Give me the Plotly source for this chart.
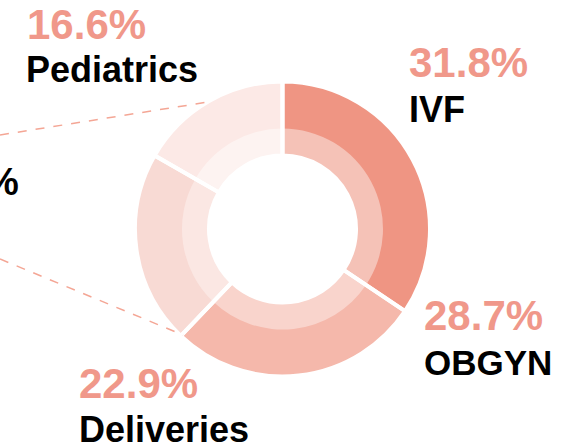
import plotly.graph_objects as go

# ---- data ----
categories = ["IVF", "OBGYN", "Deliveries", "Pediatrics"]
label_pct = ["31.8%", "28.7%", "22.9%", "16.6%"]
slice_share = [34.4, 27.7, 21.2, 16.7]   # slice sizes as drawn
outer_colors = ["#EF9583", "#F5B8AB", "#F8DAD4", "#FCE9E6"]
inner_colors = ["#F5C2B7", "#F9D4CC", "#FBE7E3", "#FDF3F1"]

W, H = 564, 445
cx, cy = 282.5, 229.0
R_OUT, R_MID, R_IN = 147.5, 100.5, 73.5


def dom(r):
    return dict(x=[(cx - r) / W, (cx + r) / W], y=[(H - cy - r) / H, (H - cy + r) / H])


common = dict(labels=categories, values=slice_share, sort=False, direction="clockwise",
              rotation=0, textinfo="none", hoverinfo="label+percent", showlegend=False)

fig = go.Figure()
fig.add_trace(go.Pie(**common, domain=dom(R_OUT), hole=R_IN / R_OUT,
                     marker=dict(colors=outer_colors, line=dict(width=0))))
fig.add_trace(go.Pie(**common, domain=dom(R_MID), hole=R_IN / R_MID,
                     marker=dict(colors=inner_colors, line=dict(width=0))))
fig.add_trace(go.Pie(**common, domain=dom(R_OUT), hole=R_IN / R_OUT,
                     marker=dict(colors=["rgba(0,0,0,0)"] * 4, line=dict(color="white", width=4))))

PCT_COLOR = "#F0988A"
FONT = "Liberation Sans"

# label placements (left x px, center y px) for pct and name
places = {
    "IVF": ((407, 63), (407, 110)),
    "OBGYN": ((422, 315), (422, 362)),
    "Deliveries": ((77, 383), (77, 429)),
    "Pediatrics": ((25, 24), (24, 70)),
}
name_sizes = {"IVF": 36, "OBGYN": 35, "Deliveries": 36, "Pediatrics": 36}

anns = []
for cat, pct in zip(categories, label_pct):
    (px, py), (nx, ny) = places[cat]
    anns.append(dict(text=pct, x=px / W, y=1 - py / H, xref="paper", yref="paper",
                     xanchor="left", yanchor="middle", showarrow=False,
                     font=dict(family=FONT, size=42, color=PCT_COLOR, weight="bold")))
    anns.append(dict(text=cat, x=nx / W, y=1 - ny / H, xref="paper", yref="paper",
                     xanchor="left", yanchor="middle", showarrow=False,
                     font=dict(family=FONT, size=name_sizes[cat], color="black", weight="bold")))

anns.append(dict(text="%", x=21 / W, y=1 - 182 / H, xref="paper", yref="paper",
                 xanchor="right", yanchor="middle", showarrow=False,
                 font=dict(family=FONT, size=38, color="black", weight="bold")))

connectors = [((0, 135), (208, 102)), ((0, 259), (183, 335))]
shapes = []
for (x0, y0), (x1, y1) in connectors:
    shapes.append(dict(type="line", xref="paper", yref="paper",
                       x0=x0 / W, y0=1 - y0 / H, x1=x1 / W, y1=1 - y1 / H,
                       line=dict(color="#F4A695", width=1.5, dash="dash")))

fig.update_layout(width=W, height=H, margin=dict(l=0, r=0, t=0, b=0),
                  paper_bgcolor="white", plot_bgcolor="white",
                  annotations=anns, shapes=shapes, showlegend=False)

fig.write_html("out.html", config={"displayModeBar": False},
               post_script="document.body.style.margin='0';document.body.style.padding='0';")
